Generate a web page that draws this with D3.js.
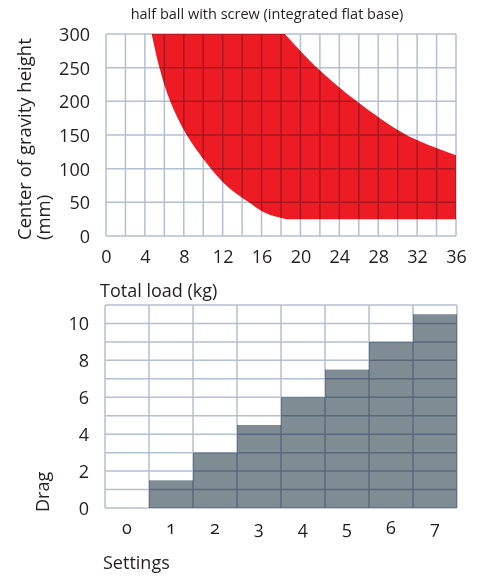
<!DOCTYPE html>
<html>
<head>
<meta charset="utf-8">
<script src="https://cdn.jsdelivr.net/npm/d3@7"></script>
<style>
  body { margin: 0; background: #fff; }
  text { font-family: "Open Sans", "Noto Sans", sans-serif; fill: #231f20; }
</style>
</head>
<body>
<script>
// top chart: usable zone, load (kg) vs center of gravity height (mm)
const loadTicks = [0, 4, 8, 12, 16, 20, 24, 28, 32, 36];
const heightTicks = [0, 50, 100, 150, 200, 250, 300];
// upper edge of the zone, left to right
const upperEdge = [[4.7, 300], [18.4, 300], [21.7, 250], [25.8, 200], [30.9, 150], [36, 120]];
// lower edge of the zone, right to left
const lowerEdge = [[36, 25], [18.5, 25], [16.4, 34], [14.7, 50], [12.6, 72], [10.8, 100], [8.3, 150], [6.6, 200], [5.5, 250], [4.7, 300]];

// bottom chart: drag per setting
const settings = ["0", "1", "2", "3", "4", "5", "6", "7"];
const drag = [0, 1.5, 3, 4.5, 6, 7.5, 9, 10.5];
const dragTicks = [0, 2, 4, 6, 8, 10];

const width = 483, height = 577;
const gridColor = "#b4bfd1";

const svg = d3.select("body").append("svg")
    .attr("width", width)
    .attr("height", height);

// ---------- top chart ----------
const x1 = d3.scaleLinear().domain([0, 36]).range([106, 456]);
const y1 = d3.scaleLinear().domain([0, 300]).range([236, 34]);

svg.append("text")
    .attr("x", 267).attr("y", 19)
    .attr("text-anchor", "middle")
    .style("font-size", "14.5px")
    .text("half ball with screw (integrated flat base)");

const line = d3.line().x(d => x1(d[0])).y(d => y1(d[1]));
const curve = d3.line().x(d => x1(d[0])).y(d => y1(d[1])).curve(d3.curveCatmullRom);

// zone outline: flat top, curve down, right edge, flat bottom, curve back up
const zonePath = line(upperEdge.slice(0, 2))
    + curve(upperEdge.slice(1)).replace(/^M/, "L")
    + line(lowerEdge.slice(0, 2)).replace(/^M/, "L")
    + curve(lowerEdge.slice(1)).replace(/^M/, "L")
    + "Z";

svg.append("path")
    .attr("d", zonePath)
    .attr("fill", "#ed1c24");

// grid over the fill
const grid1 = svg.append("g").style("mix-blend-mode", "multiply")
    .attr("stroke", gridColor).attr("stroke-width", 1.5);
grid1.selectAll(".v").data(d3.range(0, 37, 2)).enter().append("line")
    .attr("x1", d => x1(d)).attr("x2", d => x1(d))
    .attr("y1", y1(0)).attr("y2", y1(300));
grid1.selectAll(".h").data(heightTicks).enter().append("line")
    .attr("x1", x1(0)).attr("x2", x1(36))
    .attr("y1", d => y1(d)).attr("y2", d => y1(d));

const xAxis1 = svg.append("g")
    .attr("transform", `translate(0,${y1(0)})`)
    .call(d3.axisBottom(x1).tickValues(loadTicks).tickSize(0).tickPadding(14));
const yAxis1 = svg.append("g")
    .attr("transform", `translate(${x1(0)},0)`)
    .call(d3.axisLeft(y1).tickValues(heightTicks).tickSize(0).tickPadding(16));
[xAxis1, yAxis1].forEach(a => {
    a.select(".domain").remove();
    a.selectAll("text").style("font-size", "18px").attr("fill", "#231f20");
});
yAxis1.selectAll("text").attr("dy", "0.36em");

svg.append("text")
    .attr("transform", "translate(31,240) rotate(-90)")
    .style("font-size", "18.5px")
    .text("Center of gravity height");
svg.append("text")
    .attr("transform", "translate(50,240) rotate(-90)")
    .style("font-size", "18.5px")
    .text("(mm)");

svg.append("text")
    .attr("x", 100).attr("y", 297)
    .style("font-size", "18px")
    .text("Total load (kg)");

// ---------- bottom chart ----------
const x2 = d3.scaleBand().domain(settings).range([105, 457]).padding(0);
const y2 = d3.scaleLinear().domain([0, 11]).range([508, 305]);

svg.append("g").selectAll("rect").data(drag).enter().append("rect")
    .attr("x", (d, i) => x2(settings[i]))
    .attr("y", d => y2(d))
    .attr("width", x2.bandwidth())
    .attr("height", d => y2(0) - y2(d))
    .attr("fill", "#7f8c94");

const grid2 = svg.append("g").style("mix-blend-mode", "multiply")
    .attr("stroke", gridColor).attr("stroke-width", 1.5);
grid2.selectAll(".v").data(settings.concat(["end"])).enter().append("line")
    .attr("x1", (d, i) => i < settings.length ? x2(d) : x2.range()[1])
    .attr("x2", (d, i) => i < settings.length ? x2(d) : x2.range()[1])
    .attr("y1", y2(0)).attr("y2", y2(11));
grid2.selectAll(".h").data(d3.range(0, 12)).enter().append("line")
    .attr("x1", x2.range()[0]).attr("x2", x2.range()[1])
    .attr("y1", d => y2(d)).attr("y2", d => y2(d));

const xAxis2 = svg.append("g")
    .attr("transform", `translate(0,${y2(0)})`)
    .call(d3.axisBottom(x2).tickSize(0).tickPadding(13));
const yAxis2 = svg.append("g")
    .attr("transform", `translate(${x2.range()[0]},0)`)
    .call(d3.axisLeft(y2).tickValues(dragTicks).tickSize(0).tickPadding(16));
[xAxis2, yAxis2].forEach(a => {
    a.select(".domain").remove();
    a.selectAll("text").style("font-size", "18px").attr("fill", "#231f20");
});
xAxis2.selectAll("text")
    .style("font-size", "18px")
    .style("font-variant-numeric", "oldstyle-nums");
yAxis2.selectAll("text").attr("dy", "0.36em");

svg.append("text")
    .attr("transform", "translate(49,512) rotate(-90)")
    .style("font-size", "18px")
    .text("Drag");

svg.append("text")
    .attr("x", 103).attr("y", 569)
    .style("font-size", "18px")
    .text("Settings");
</script>
</body>
</html>
